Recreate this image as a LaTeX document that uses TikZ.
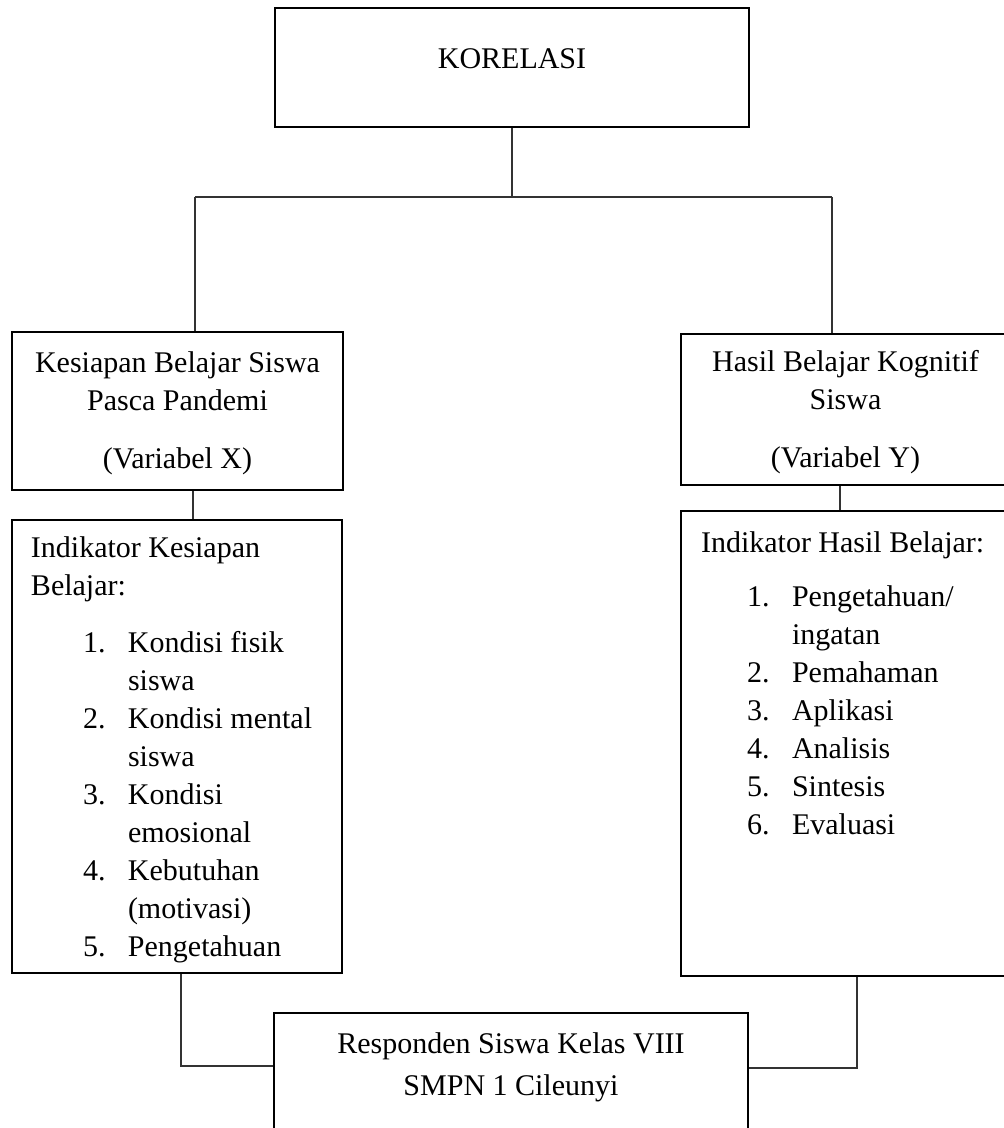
\documentclass[tikz,border=0pt]{standalone}
\usepackage{fontspec}
\setmainfont{Liberation Serif}
\tikzstyle{block} = [draw, rectangle, line width=1.4pt, inner sep=0pt, text centered, align=center]
\tikzstyle{line} = [draw, line width=0.75pt, black!80]
\tikzstyle{listtext} = [inner sep=0pt, align=left, anchor=north west]

\begin{document}
\begin{tikzpicture}[x=0.5pt, y=-0.5pt, font=\fontsize{15}{19}\selectfont]
    \useasboundingbox (0,0) rectangle (1003,1128);

    % Place nodes
    \node [block, minimum width=237pt, minimum height=59.5pt] (korelasi) at (512,67.5) {\raisebox{4.5pt}[\height][\depth]{KORELASI}};
    \node [block, minimum width=165.5pt, minimum height=79pt] (varX) at (177.5,411) {\raisebox{-1pt}[\height][\depth]{\begin{tabular}{@{}c@{}}Kesiapan Belajar Siswa\\ Pasca Pandemi\\[10pt] (Variabel X)\end{tabular}}};
    \node [block, minimum width=164.5pt, minimum height=75.5pt] (varY) at (845.5,409.5) {\raisebox{-1pt}[\height][\depth]{\begin{tabular}{@{}c@{}}Hasil Belajar Kognitif\\ Siswa\\[10pt] (Variabel Y)\end{tabular}}};
    \node [block, minimum width=165pt, minimum height=226.5pt] (indX) at (177,746.5) {};
    \node [block, minimum width=164.5pt, minimum height=232.5pt] (indY) at (845.5,743.5) {};
    \node [block, minimum width=237pt, minimum height=63.5pt] (responden) at (511,1076.5) {\raisebox{5pt}[\height][\depth]{\begin{tabular}{@{}c@{}}Responden Siswa Kelas VIII\\[2pt] SMPN 1 Cileunyi\end{tabular}}};

    % Indicator lists
    \node [listtext] (listX) at ([shift={(20,18)}]indX.north west) {Indikator Kesiapan\\ Belajar:\\[9.5pt]
      \begin{tabular}[t]{@{\hspace{26pt}}l@{\hspace{11.25pt}}l@{}}
        1. & Kondisi fisik\\
           & siswa\\
        2. & Kondisi mental\\
           & siswa\\
        3. & Kondisi\\
           & emosional\\
        4. & Kebutuhan\\
           & (motivasi)\\
        5. & Pengetahuan
      \end{tabular}};
    \node [listtext] (listY) at ([shift={(21,22)}]indY.north west) {Indikator Hasil Belajar:\\[8pt]
      \begin{tabular}[t]{@{\hspace{23pt}}l@{\hspace{11.25pt}}l@{}}
        1. & Pengetahuan/\\
           & ingatan\\
        2. & Pemahaman\\
        3. & Aplikasi\\
        4. & Analisis\\
        5. & Sintesis\\
        6. & Evaluasi
      \end{tabular}};

    % Helper coordinates for the branch
    \coordinate (hub) at (512,197);
    \coordinate (leftend) at (195,197);
    \coordinate (rightend) at (832,197);

    % Draw edges
    \path [line] (korelasi.south) -- (hub);
    \path [line] (leftend) -- (rightend);
    \path [line] (leftend) -- (leftend |- varX.north);
    \path [line] (rightend) -- (rightend |- varY.north);
    \path [line] ([xshift=7.75pt]varX.south) -- ([xshift=7.75pt]varX.south |- indX.north);
    \path [line] ([xshift=-2.75pt]varY.south) -- ([xshift=-2.75pt]varY.south |- indY.north);
    \path [line] ([xshift=2pt]indX.south) |- ([yshift=5.25pt]responden.west);
    \path [line] ([xshift=5.75pt]indY.south) |- ([yshift=4.25pt]responden.east);
\end{tikzpicture}
\end{document}
